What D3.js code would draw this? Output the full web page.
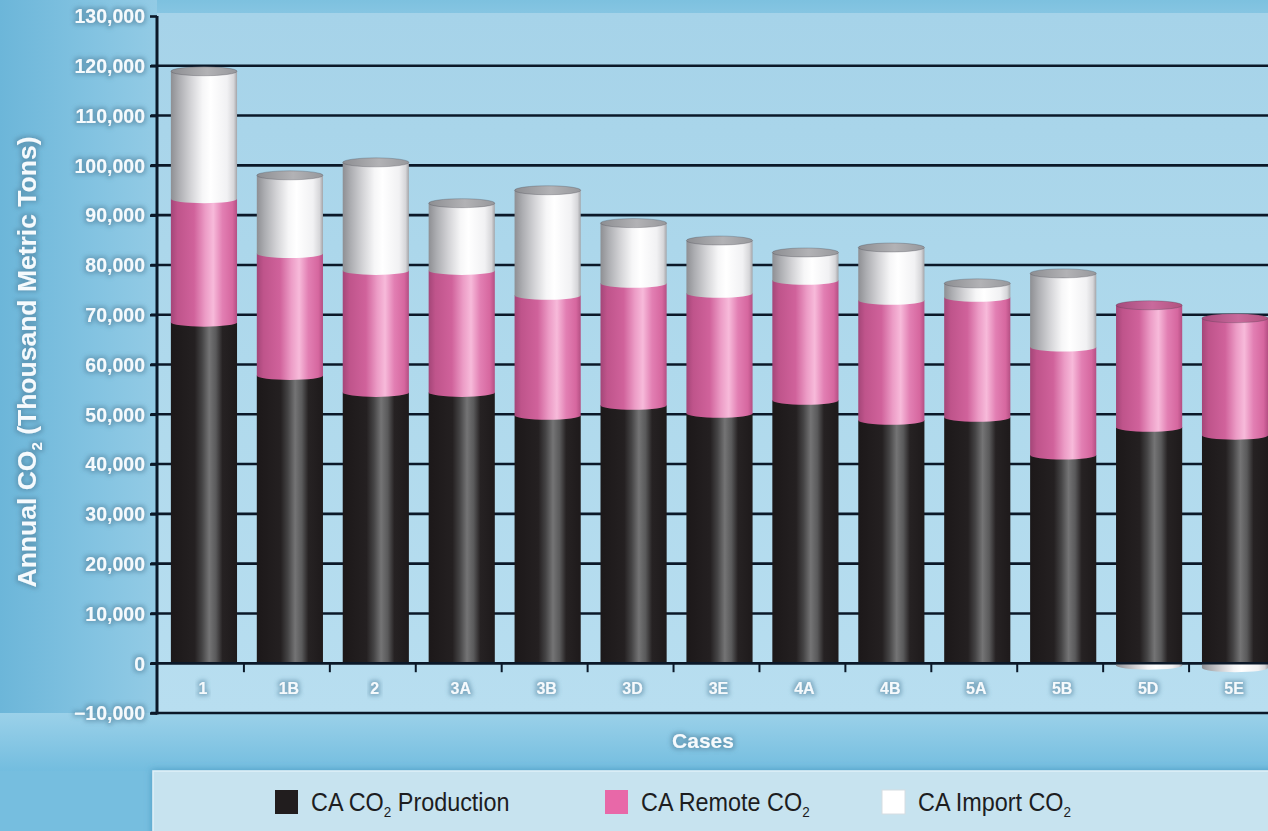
<!DOCTYPE html>
<html>
<head>
<meta charset="utf-8">
<script src="https://cdn.jsdelivr.net/npm/d3@7"></script>
<style>
  html, body { margin: 0; padding: 0; background: #74bddf; overflow: hidden; }
  svg { display: block; }
</style>
</head>
<body>
<svg id="chart" width="1268" height="831"></svg>
<script>
// Cases on the x axis
const cases = ["1", "1B", "2", "3A", "3B", "3D", "3E", "4A", "4B", "5A", "5B", "5D", "5E"];

// Annual CO2, thousand metric tons, by source
const production = [68500, 57800, 54400, 54400, 49800, 51800, 50200, 52800, 48800, 49400, 41800, 47400, 45800];
const remote     = [24800, 24500, 24500, 24500, 24100, 24500, 24100, 24100, 24100, 24100, 21700, 24500, 23500];
const imports    = [25600, 15700, 21700, 13500, 21100, 12100, 10600,  5600, 10600,  2800, 14800,  -400,  -900];

const seriesKeys  = ["production", "remote", "imports"];
const seriesLabel = ["CA CO", "CA Remote CO", "CA Import CO"];

// Y axis ticks
const yTickValues = [-10000, 0, 10000, 20000, 30000, 40000, 50000, 60000, 70000,
                     80000, 90000, 100000, 110000, 120000, 130000];

const W = 1268, H = 831;
const svg = d3.select("#chart");
const defs = svg.append("defs");

function linGrad(id, stops, vertical) {
  const g = defs.append("linearGradient").attr("id", id)
    .attr("x1", "0%").attr("y1", "0%")
    .attr("x2", vertical ? "0%" : "100%").attr("y2", vertical ? "100%" : "0%");
  stops.forEach(([o, c]) => g.append("stop").attr("offset", o).attr("stop-color", c));
  return `url(#${id})`;
}

// Backgrounds
const bgLeft   = linGrad("bgLeft", [[0, "#6cb6d9"], [0.6, "#83c3e1"], [1, "#93cbe5"]]);
const bgPlot   = linGrad("bgPlot", [[0, "#a6d3e9"], [0.5, "#afd9ec"], [1, "#b8def0"]], true);
const bgBottom = linGrad("bgBottom", [[0, "#9bd1e9"], [1, "#73bddf"]], true);
const bgTop    = linGrad("bgTop", [[0, "#7dc1df"], [1, "#86c5e2"]], true);

// Cylinder body shading (left to right) and cap colours
const bodyFill = {
  production: linGrad("gProd", [[0, "#1c1819"], [0.36, "#242021"], [0.47, "#454445"], [0.58, "#747475"],
                                [0.68, "#5a5a5b"], [0.78, "#262223"], [1, "#1e1a1b"]]),
  remote: linGrad("gRem", [[0, "#a44678"], [0.1, "#bf548b"], [0.35, "#d0629b"], [0.52, "#ec9cc6"],
                           [0.64, "#f7bada"], [0.78, "#e27fb3"], [0.93, "#d6679f"], [1, "#b44f83"]]),
  imports: linGrad("gImp", [[0, "#8e8f93"], [0.12, "#acadb1"], [0.3, "#d3d3d6"], [0.48, "#f6f6f7"],
                            [0.6, "#ffffff"], [0.85, "#f1f1f3"], [0.95, "#d6d6d9"], [1, "#a3a4a8"]])
};
const capFill = {
  production: linGrad("cProd", [[0, "#2a2627"], [0.6, "#4d4d4e"], [1, "#2a2627"]]),
  remote: linGrad("cRem", [[0, "#a64a7c"], [0.55, "#c86a9c"], [1, "#b2527f"]]),
  imports: linGrad("cImp", [[0, "#8d8e92"], [0.55, "#b2b2b5"], [1, "#97989c"]])
};

// Soft halo behind the white axis texts
const halo = defs.append("filter").attr("id", "halo")
  .attr("x", "-30%").attr("y", "-60%").attr("width", "160%").attr("height", "220%");
halo.append("feMorphology").attr("in", "SourceAlpha").attr("operator", "dilate").attr("radius", 1.5).attr("result", "d");
halo.append("feGaussianBlur").attr("in", "d").attr("stdDeviation", 2.2).attr("result", "b");
halo.append("feFlood").attr("flood-color", "#4b7c98").attr("flood-opacity", 0.5);
halo.append("feComposite").attr("in2", "b").attr("operator", "in").attr("result", "s");
const hm = halo.append("feMerge");
hm.append("feMergeNode").attr("in", "s");
hm.append("feMergeNode").attr("in", "SourceGraphic");

const shadow = defs.append("filter").attr("id", "boxShadow")
  .attr("x", "-5%").attr("y", "-30%").attr("width", "110%").attr("height", "160%");
shadow.append("feDropShadow").attr("dx", -1).attr("dy", -1).attr("stdDeviation", 3)
  .attr("flood-color", "#3f8fb8").attr("flood-opacity", 0.6);

// Scales
const plotLeft = 157, plotRight = W, plotTop = 13;
const y = d3.scaleLinear().domain([-10000, 130000]).range([713, 16]);
const xCat = d3.scaleBand().domain(cases).range([158, 1275]);          // category slots
const xBar = d3.scaleBand().domain(cases).range([161, 1278])
  .paddingInner(0.23).paddingOuter(0.115);                               // cylinder bodies

// Background panels
svg.append("rect").attr("width", W).attr("height", H).attr("fill", "#76bedf");
svg.append("rect").attr("x", 0).attr("y", 0).attr("width", plotLeft).attr("height", 771).attr("fill", bgLeft);
svg.append("rect").attr("x", plotLeft).attr("y", 0).attr("width", W - plotLeft).attr("height", plotTop).attr("fill", bgTop);
svg.append("rect").attr("x", 0).attr("y", y(-10000)).attr("width", W).attr("height", 771 - y(-10000)).attr("fill", bgBottom);
svg.append("rect").attr("x", plotLeft).attr("y", plotTop)
  .attr("width", plotRight - plotLeft).attr("height", y(-10000) - plotTop).attr("fill", bgPlot);

// Horizontal grid lines (behind the bars)
const gridVals = yTickValues.filter(v => v < 130000);
svg.append("g").selectAll("line").data(gridVals).join("line")
  .attr("x1", plotLeft - 6).attr("x2", plotRight)
  .attr("y1", d => y(d)).attr("y2", d => y(d))
  .attr("stroke", "#0b1828").attr("stroke-width", 2.6);

// Y axis with left ticks
const yAxis = d3.axisLeft(y).tickValues(yTickValues).tickSize(7).tickFormat(d3.format(","));
const yG = svg.append("g").attr("transform", `translate(${plotLeft},0)`).call(yAxis);
yG.select(".domain").attr("stroke", "#0b1828").attr("stroke-width", 3)
  .attr("d", `M0,${y(130000)}V${y(-10000) + 1.5}`);
yG.selectAll(".tick line").attr("stroke", "#0b1828").attr("stroke-width", 2.6);
yG.selectAll(".tick text")
  .attr("x", -12).attr("dy", "0.35em")
  .attr("fill", "#f5fafd")
  .attr("font-family", "'Liberation Sans', Arial, sans-serif")
  .attr("font-weight", "bold").attr("font-size", 19.5)
  .attr("filter", "url(#halo)");

// Stacked cylinders
const rows = cases.map((c, i) => ({ case: c, production: production[i], remote: remote[i], imports: imports[i] }));
const stacked = d3.stack().keys(seriesKeys).offset(d3.stackOffsetDiverging)(rows);
const ry = 4.5;

const segments = [];
stacked.forEach(s => s.forEach((d, i) => {
  if (d[1] - d[0] !== 0) segments.push({ key: s.key, i, lo: d[0], hi: d[1] });
}));

function segPath(s) {
  const x0 = xBar(cases[s.i]), x1 = x0 + xBar.bandwidth(), rx = xBar.bandwidth() / 2;
  const yt = y(s.hi), yb = y(s.lo);
  if (s.lo === 0) {
    // sits on the zero line: flat base
    return `M${x0},${yt}L${x0},${yb}L${x1},${yb}L${x1},${yt}Z`;
  }
  return `M${x0},${yt}L${x0},${yb}A${rx},${ry} 0 0 0 ${x1},${yb}L${x1},${yt}Z`;
}

const barsG = svg.append("g");
// negative pieces first, then positive pieces bottom-up
const ordered = segments.filter(s => s.hi <= 0).concat(
  seriesKeys.flatMap(k => segments.filter(s => s.key === k && s.hi > 0)));
barsG.selectAll("path.seg").data(ordered).join("path")
  .attr("class", "seg")
  .attr("d", segPath)
  .attr("fill", d => bodyFill[d.key]);

// Top caps on each cylinder
const caps = cases.map((c, i) => {
  const pos = segments.filter(s => s.i === i && s.hi > 0);
  const top = pos[pos.length - 1];
  return { i, key: top.key, v: top.hi };
});
barsG.selectAll("ellipse.cap").data(caps).join("ellipse")
  .attr("class", "cap")
  .attr("cx", d => xBar(cases[d.i]) + xBar.bandwidth() / 2)
  .attr("cy", d => y(d.v))
  .attr("rx", xBar.bandwidth() / 2)
  .attr("ry", ry)
  .attr("fill", d => capFill[d.key])
  .attr("stroke", "rgba(60,60,70,0.35)").attr("stroke-width", 0.8);

// Zero line and x ticks at category boundaries
svg.append("line").attr("x1", plotLeft).attr("x2", plotRight)
  .attr("y1", y(0)).attr("y2", y(0)).attr("stroke", "#0b1828").attr("stroke-width", 2.6);
svg.append("g").selectAll("line").data(cases.slice(1)).join("line")
  .attr("x1", d => xCat(d)).attr("x2", d => xCat(d))
  .attr("y1", y(0)).attr("y2", y(0) + 9)
  .attr("stroke", "#0b1828").attr("stroke-width", 2);

// Category labels
svg.append("g").selectAll("text").data(cases).join("text")
  .attr("x", d => xCat(d) + xCat.bandwidth() / 2 + 2)
  .attr("y", y(-5000) + 6)
  .attr("text-anchor", "middle")
  .attr("fill", "#f5fafd")
  .attr("font-family", "'Liberation Sans', Arial, sans-serif")
  .attr("font-weight", "bold").attr("font-size", 16)
  .attr("filter", "url(#halo)")
  .text(d => d);

// Axis titles
svg.append("text")
  .attr("x", 703).attr("y", 748)
  .attr("text-anchor", "middle")
  .attr("fill", "#f5fafd")
  .attr("font-family", "'Liberation Sans', Arial, sans-serif")
  .attr("font-weight", "bold").attr("font-size", 21)
  .attr("filter", "url(#halo)")
  .text("Cases");

const yTitle = svg.append("text")
  .attr("transform", "translate(36,362) rotate(-90)")
  .attr("text-anchor", "middle")
  .attr("fill", "#f5fafd")
  .attr("font-family", "'Liberation Sans', Arial, sans-serif")
  .attr("font-weight", "bold").attr("font-size", 26.5)
  .attr("filter", "url(#halo)");
yTitle.append("tspan").text("Annual CO");
yTitle.append("tspan").attr("font-size", 15).attr("dy", 6).text("2");
yTitle.append("tspan").attr("dy", -6).text(" (Thousand Metric Tons)");

// Legend panel
svg.append("rect").attr("x", 153).attr("y", 771).attr("width", W - 153 + 10).attr("height", 70)
  .attr("fill", "#c7e3ef").attr("stroke", "#dff1f9").attr("stroke-width", 1.5)
  .attr("filter", "url(#boxShadow)");

const legendX = [275, 605, 882];
const swatchFill = { production: "#211d1e", remote: "#e868a8", imports: "#ffffff" };
const lg = svg.append("g").selectAll("g").data(seriesKeys).join("g")
  .attr("transform", (d, i) => `translate(${legendX[i]},790)`);
lg.append("rect").attr("width", 23).attr("height", 24)
  .attr("fill", d => swatchFill[d])
  .attr("stroke", d => d === "imports" ? "#d6dde2" : "none");
// condensed legend lettering
const lt = lg.append("text")
  .attr("transform", "translate(36,21) scale(0.9,1)")
  .attr("fill", "#1d1d1f")
  .attr("font-family", "'Liberation Sans', Arial, sans-serif")
  .attr("font-size", 26);
lt.append("tspan").text((d, i) => seriesLabel[i]);
lt.append("tspan").attr("font-size", 15).attr("dy", 6).text("2");
lt.append("tspan").attr("dy", -6).text((d, i) => i === 0 ? " Production" : "");
</script>
</body>
</html>
